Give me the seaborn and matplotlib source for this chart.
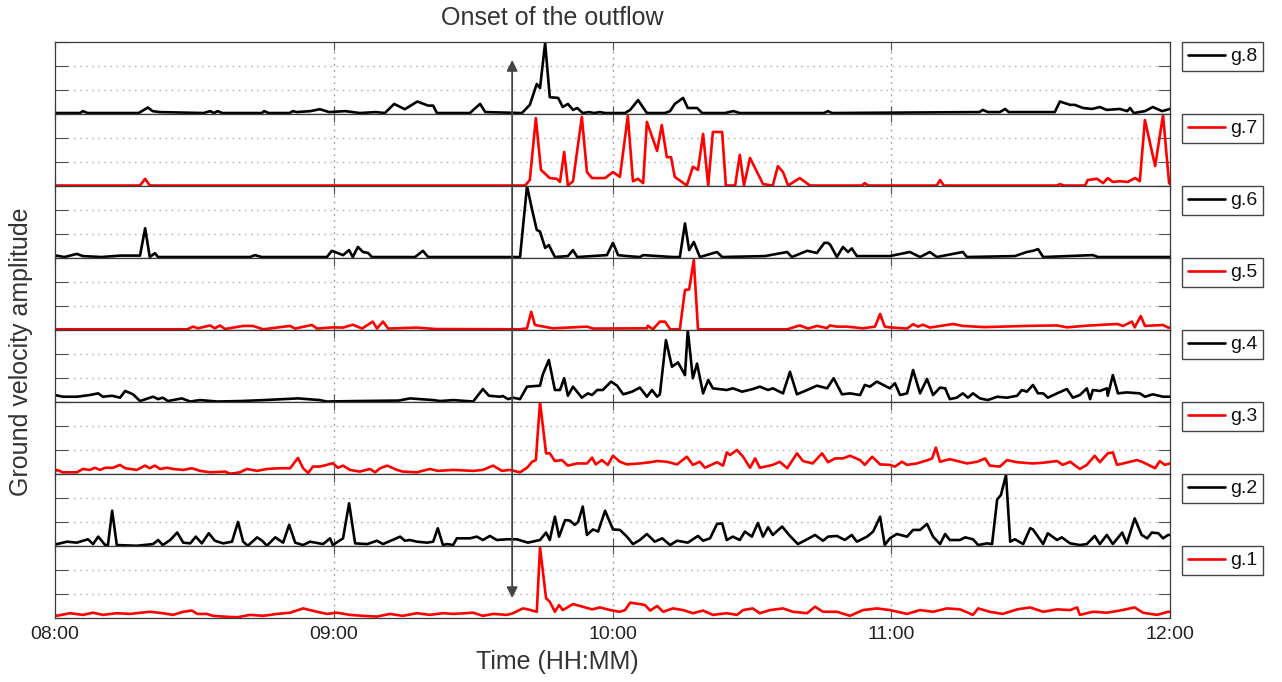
import matplotlib
matplotlib.use("Agg")
import matplotlib.pyplot as plt
from matplotlib.patches import ConnectionPatch
import seaborn as sns
import pandas as pd

# ---------------- data (minutes after 08:00, amplitude in panel units 0..3) ----------------
tick_minutes = [0, 60, 120, 180, 240]
tick_labels = ["08:00", "09:00", "10:00", "11:00", "12:00"]
onset_minute = 98.4

g8_t = [0, 5.4, 6.0, 7.0, 18.0, 20.0, 21.0, 22.5, 32.0, 33.4, 34.2, 35.0, 36.0, 44.5, 45.0, 46.0,
        50.5, 51.2, 52.0, 55.0, 57.0, 59.0, 62.5, 65.6, 69.0, 71.0, 73.0, 75.3, 78.0, 80.3, 81.4,
        82.2, 89.3, 91.5, 92.6, 100.5, 102.2, 103.7, 104.4, 105.5, 106.5, 108.3, 109.3, 110.4,
        111.5, 112.4, 113.6, 115.0, 116.0, 117.3, 118.4, 122.7, 123.8, 125.5, 127.4, 131.3, 132.4,
        133.4, 135.2, 136.2, 138.2, 139.3, 144.2, 146.0, 147.4, 165.5, 166.4, 167.2, 199.0, 199.7,
        200.8, 203.4, 204.5, 205.3, 215.2, 216.3, 218.5, 219.5, 221.3, 223.2, 224.9, 226.4, 229.2,
        230.8, 231.4, 232.2, 234.6, 236.3, 238.3, 240.0]
g8_v = [0.04, 0.04, 0.12, 0.04, 0.04, 0.27, 0.12, 0.08, 0.04, 0.12, 0.04, 0.12, 0.04, 0.04, 0.12, 0.04,
        0.04, 0.12, 0.08, 0.12, 0.2, 0.08, 0.12, 0.04, 0.08, 0.04, 0.42, 0.2, 0.52, 0.35, 0.35,
        0.04, 0.04, 0.42, 0.08, 0.04, 0.38, 1.25, 1.08, 2.96, 0.7, 0.67, 0.29, 0.42,
        0.17, 0.25, 0.04, 0.08, 0.04, 0.08, 0.04, 0.04, 0.17, 0.58, 0.04, 0.04, 0.12,
        0.42, 0.67, 0.25, 0.25, 0.04, 0.04, 0.12, 0.04, 0.04, 0.12, 0.04, 0.08, 0.17,
        0.08, 0.08, 0.21, 0.08, 0.08, 0.52, 0.38, 0.38, 0.25, 0.21, 0.29, 0.17, 0.21,
        0.12, 0.25, 0.04, 0.12, 0.29, 0.12, 0.21]

g7_t = [0, 18.3, 19.4, 20.4, 101.2, 102.2, 103.5, 104.6, 106.5, 108.0, 108.7, 109.6, 110.4, 111.5,
        113.4, 114.5, 115.6, 118.4, 120.1, 121.6, 123.3, 124.4, 125.5, 126.6, 127.4, 129.6, 130.6,
        131.7, 132.6, 133.4, 136.0, 137.3, 138.4, 139.5, 140.6, 141.6, 143.6, 144.4, 146.4, 147.4,
        148.3, 149.6, 152.4, 154.5, 155.6, 156.7, 157.8, 160.3, 162.5, 173.7, 174.3, 175.0, 189.8,
        190.5, 191.3, 215.7, 216.3, 217.2, 221.7, 222.3, 224.3, 225.6, 226.6, 227.7, 229.2, 230.9,
        232.5, 233.5, 234.6, 236.8, 238.5, 239.8, 240.0]
g7_v = [0.02, 0.02, 0.3, 0.02, 0.02, 0.25, 2.83, 0.67, 0.33, 0.3, 0.17, 1.42, 0.02, 0.2,
        2.88, 0.58, 0.33, 0.33, 0.58, 0.38, 2.92, 0.2, 0.3, 0.12, 2.67, 1.46, 2.54,
        1.2, 1.2, 0.38, 0.02, 0.8, 0.67, 2.17, 0.02, 2.25, 2.25, 0.02, 0.02, 1.3,
        0.02, 1.17, 0.08, 0.02, 0.83, 0.58, 0.02, 0.33, 0.02, 0.02, 0.12, 0.02, 0.02,
        0.25, 0.02, 0.02, 0.08, 0.02, 0.02, 0.25, 0.3, 0.12, 0.33, 0.17, 0.2, 0.17,
        0.33, 0.2, 2.75, 0.83, 2.96, 0.12, 0.08]

g6_t = [0, 0.4, 2.0, 4.7, 6.0, 10.0, 14.0, 18.3, 19.4, 20.4, 21.5, 22.2, 42.0, 43.0, 44.5, 58.5,
        59.6, 62.0, 63.3, 64.1, 65.2, 66.3, 67.4, 68.2, 77.5, 79.2, 80.3, 100.1, 101.6, 102.7,
        103.7, 104.4, 105.5, 106.3, 107.6, 110.4, 111.5, 112.4, 118.8, 120.1, 121.2, 123.1, 125.9,
        126.6, 133.0, 134.5, 135.6, 136.5, 137.5, 138.8, 142.5, 143.6, 152.8, 157.6, 158.6, 161.9,
        164.0, 165.6, 166.4, 166.9, 168.3, 169.6, 170.7, 171.5, 172.6, 179.7, 184.0, 186.2, 188.3,
        189.8, 195.4, 196.3, 206.6, 209.2, 210.5, 211.6, 212.7, 223.4, 224.5, 240.0]
g6_v = [0.04, 0.1, 0.04, 0.17, 0.08, 0.04, 0.1, 0.1, 1.24, 0.04, 0.2, 0.04, 0.04, 0.12, 0.04, 0.04,
        0.3, 0.12, 0.33, 0.04, 0.46, 0.25, 0.21, 0.04, 0.04, 0.3, 0.04, 0.04, 3.0, 2.0,
        1.17, 1.1, 0.42, 0.54, 0.04, 0.08, 0.33, 0.04, 0.12, 0.63, 0.12, 0.08, 0.04,
        0.12, 0.04, 0.04, 1.44, 0.33, 0.67, 0.04, 0.25, 0.04, 0.08, 0.25, 0.04, 0.3,
        0.21, 0.63, 0.63, 0.54, 0.04, 0.46, 0.25, 0.4, 0.08, 0.08, 0.25, 0.04, 0.25,
        0.04, 0.25, 0.04, 0.08, 0.25, 0.3, 0.37, 0.04, 0.12, 0.04, 0.04]

g5_t = [0, 28.5, 29.7, 30.8, 33.4, 34.4, 35.5, 36.6, 40.5, 42.6, 44.8, 50.6, 51.7, 55.3, 56.4,
        59.8, 62.0, 64.1, 66.1, 68.4, 69.3, 70.6, 71.7, 77.9, 82.0, 100.1, 101.6, 102.5, 103.3,
        104.4, 107.2, 114.5, 115.8, 127.4, 127.6, 128.7, 130.2, 131.3, 132.4, 134.5, 135.6, 136.5,
        137.5, 138.4, 157.6, 160.3, 162.1, 164.0, 166.2, 166.8, 168.3, 170.5, 173.9, 176.5, 177.6,
        178.6, 179.7, 183.4, 184.7, 185.8, 186.8, 188.3, 193.3, 195.4, 200.0, 209.2, 215.7, 217.8,
        222.1, 228.6, 229.9, 231.8, 232.4, 233.7, 234.6, 238.5, 239.6, 240.0]
g5_v = [0.03, 0.03, 0.14, 0.07, 0.19, 0.07, 0.19, 0.04, 0.17, 0.17, 0.03, 0.17, 0.06, 0.21, 0.06,
        0.11, 0.1, 0.22, 0.06, 0.35, 0.06, 0.35, 0.06, 0.1, 0.04, 0.03, 0.07, 0.76, 0.21,
        0.17, 0.07, 0.14, 0.06, 0.07, 0.18, 0.03, 0.35, 0.35, 0.03, 0.03, 1.67, 1.69,
        2.92, 0.03, 0.03, 0.19, 0.06, 0.17, 0.08, 0.19, 0.14, 0.14, 0.07, 0.14, 0.67,
        0.14, 0.11, 0.06, 0.24, 0.14, 0.22, 0.1, 0.25, 0.17, 0.12, 0.17, 0.19, 0.11,
        0.18, 0.25, 0.17, 0.35, 0.11, 0.58, 0.17, 0.21, 0.1, 0.1]

g4_t = [0, 1.7, 4.7, 7.5, 9.3, 10.3, 12.3, 14.0, 15.1, 16.8, 18.3, 21.1, 22.2, 23.2, 24.3, 27.3,
        29.1, 31.2, 34.9, 40.0, 45.0, 52.3, 57.0, 58.5, 65.0, 74.0, 76.4, 81.4, 82.9, 85.7, 90.0,
        92.1, 93.4, 95.8, 96.4, 97.5, 98.6, 100.1, 101.6, 104.4, 105.0, 106.3, 107.6, 108.7, 109.6,
        110.4, 111.5, 113.4, 114.7, 115.6, 116.7, 117.9, 119.7, 121.0, 122.3, 124.2, 125.9, 127.4,
        128.5, 129.6, 130.2, 131.5, 132.8, 134.1, 135.6, 136.2, 137.3, 138.2, 139.5, 140.6, 141.6,
        144.6, 145.9, 147.9, 150.2, 151.7, 153.5, 154.5, 156.7, 158.2, 159.7, 161.9, 164.0, 166.2,
        167.6, 169.4, 171.1, 173.3, 174.3, 175.4, 176.9, 179.7, 180.8, 181.9, 183.4, 184.7, 186.2,
        187.7, 189.0, 190.5, 191.6, 192.6, 194.1, 195.4, 196.5, 197.6, 199.1, 200.8, 202.8, 204.9,
        207.1, 208.1, 209.2, 210.5, 211.6, 212.7, 213.7, 215.7, 217.8, 219.1, 220.6, 222.1, 222.8,
        223.4, 224.9, 226.4, 226.6, 227.7, 228.8, 230.7, 233.5, 234.6, 236.3, 238.5, 240.0]
g4_v = [0.29, 0.22, 0.22, 0.29, 0.36, 0.22, 0.26, 0.18, 0.46, 0.32, 0.04, 0.22, 0.12, 0.18, 0.04, 0.15,
        0.02, 0.08, 0.02, 0.04, 0.08, 0.15, 0.08, 0.02, 0.04, 0.06, 0.15, 0.08, 0.04, 0.08, 0.02,
        0.54, 0.26, 0.22, 0.25, 0.12, 0.18, 0.12, 0.64, 0.68, 1.15, 1.75, 0.5, 0.5, 0.99,
        0.26, 0.64, 0.18, 0.36, 0.29, 0.5, 0.5, 0.85, 0.68, 0.32, 0.43, 0.6, 0.22,
        0.5, 0.22, 0.32, 2.58, 1.47, 1.65, 1.12, 3.0, 0.99, 1.6, 0.36, 0.92, 0.57,
        0.5, 0.57, 0.43, 0.54, 0.64, 0.5, 0.57, 0.36, 1.26, 0.32, 0.5, 0.68, 0.57,
        0.99, 0.32, 0.36, 0.29, 0.71, 0.64, 0.85, 0.57, 0.78, 0.29, 0.36, 1.33, 0.36,
        0.96, 0.29, 0.6, 0.57, 0.12, 0.18, 0.36, 0.18, 0.36, 0.15, 0.08, 0.22, 0.18,
        0.26, 0.5, 0.43, 0.71, 0.36, 0.36, 0.18, 0.36, 0.54, 0.18, 0.29, 0.57, 0.12,
        0.5, 0.46, 0.57, 0.26, 1.12, 0.36, 0.4, 0.36, 0.22, 0.32, 0.22, 0.22]

g3_t = [0, 0.4, 1.7, 4.7, 6.0, 7.5, 8.6, 9.7, 10.8, 12.5, 14.0, 15.1, 17.6, 19.4, 20.4, 21.5, 22.6,
        24.1, 25.4, 27.6, 29.5, 31.2, 33.4, 36.6, 37.7, 39.8, 41.3, 43.5, 45.6, 48.4, 50.6, 52.3,
        53.4, 54.5, 55.5, 57.0, 58.5, 59.8, 60.9, 62.0, 63.5, 65.6, 67.8, 68.9, 70.0, 71.5, 73.6,
        74.9, 77.9, 80.7, 82.4, 85.7, 90.0, 92.1, 94.3, 96.2, 97.9, 100.1, 101.6, 102.7, 103.5,
        104.4, 105.7, 106.5, 107.6, 109.1, 110.4, 112.4, 114.5, 115.6, 116.4, 117.7, 119.0, 120.1,
        121.6, 123.1, 125.9, 128.1, 129.6, 131.7, 133.9, 136.0, 137.3, 138.8, 139.9, 142.5, 143.8,
        144.6, 145.3, 146.8, 148.1, 149.6, 150.7, 151.7, 154.5, 156.0, 157.6, 159.7, 161.0, 163.1,
        165.1, 166.4, 167.9, 169.6, 171.1, 173.3, 174.3, 175.9, 177.6, 179.7, 180.8, 182.3, 183.4,
        185.5, 187.9, 188.8, 189.6, 190.5, 192.6, 196.3, 198.5, 200.2, 201.2, 203.4, 204.9, 207.1,
        210.5, 212.7, 215.7, 216.9, 218.5, 220.6, 222.1, 223.8, 224.9, 226.6, 227.7, 228.6, 229.9,
        232.9, 234.2, 236.8, 237.8, 238.9, 240.0]
g3_v = [0.1, 0.17, 0.07, 0.07, 0.21, 0.17, 0.26, 0.17, 0.26, 0.26, 0.38, 0.24, 0.17, 0.35, 0.24, 0.35, 0.21,
        0.26, 0.21, 0.17, 0.24, 0.13, 0.07, 0.1, 0.01, 0.07, 0.21, 0.13, 0.21, 0.24, 0.24, 0.67,
        0.24, 0.04, 0.31, 0.31, 0.38, 0.45, 0.26, 0.35, 0.17, 0.1, 0.21, 0.07, 0.24, 0.35, 0.17,
        0.1, 0.07, 0.21, 0.13, 0.17, 0.13, 0.17, 0.35, 0.13, 0.17, 0.07, 0.26, 0.51, 0.58,
        3.0, 0.86, 0.86, 0.54, 0.58, 0.35, 0.44, 0.44, 0.68, 0.4, 0.58, 0.38, 0.76,
        0.51, 0.4, 0.44, 0.49, 0.54, 0.51, 0.4, 0.72, 0.38, 0.51, 0.26, 0.49, 0.35,
        0.9, 0.79, 1.0, 0.72, 0.26, 0.65, 0.26, 0.38, 0.51, 0.24, 0.86, 0.54, 0.44,
        0.86, 0.49, 0.65, 0.65, 0.76, 0.58, 0.38, 0.72, 0.4, 0.38, 0.31, 0.51, 0.38,
        0.44, 0.58, 0.65, 1.1, 0.51, 0.62, 0.44, 0.51, 0.65, 0.35, 0.31, 0.58, 0.49,
        0.44, 0.47, 0.54, 0.38, 0.51, 0.21, 0.38, 0.76, 0.49, 0.86, 0.9, 0.38, 0.44,
        0.58, 0.49, 0.24, 0.54, 0.38, 0.44]

g2_t = [0, 0.4, 2.6, 4.7, 7.1, 8.2, 9.3, 10.8, 11.4, 12.3, 13.3, 17.6, 21.1, 22.2, 23.2, 24.8, 26.3,
        27.6, 29.1, 30.3, 31.6, 33.1, 34.4, 36.2, 38.1, 39.4, 40.5, 41.5, 43.5, 44.6, 45.6, 47.4,
        49.1, 50.4, 51.7, 53.4, 54.9, 57.7, 59.2, 59.8, 62.0, 63.3, 64.6, 67.2, 69.3, 70.6, 74.3,
        75.3, 76.4, 77.9, 80.1, 81.4, 82.4, 83.5, 84.4, 85.7, 86.5, 89.3, 90.8, 92.1, 93.6, 95.1,
        97.3, 99.4, 101.8, 104.4, 105.7, 106.5, 107.6, 108.5, 109.8, 110.8, 111.9, 112.6, 113.6,
        114.5, 115.8, 116.9, 118.4, 120.1, 121.6, 123.1, 124.4, 125.9, 127.4, 129.1, 130.7, 132.4,
        133.9, 136.2, 138.4, 139.5, 141.0, 142.5, 143.6, 144.6, 145.9, 147.4, 148.5, 150.0, 151.3,
        152.4, 153.5, 154.5, 156.5, 158.2, 159.9, 161.9, 163.6, 165.3, 166.4, 168.3, 170.0, 171.5,
        172.6, 174.8, 176.1, 177.6, 178.6, 179.7, 181.2, 183.4, 184.7, 186.2, 187.7, 189.0, 190.5,
        191.6, 192.6, 194.8, 195.9, 197.6, 198.7, 200.6, 201.7, 202.8, 203.6, 204.7, 205.6, 206.6,
        208.4, 209.9, 210.5, 212.7, 213.7, 215.7, 216.7, 218.5, 220.6, 222.1, 223.8, 224.9, 226.4,
        227.7, 229.7, 230.7, 232.4, 233.9, 235.1, 236.1, 237.5, 238.5, 239.6, 240.0]
g2_v = [0.04, 0.08, 0.18, 0.14, 0.28, 0.08, 0.39, 0.04, 0.04, 1.47, 0.04, 0.01, 0.08, 0.25, 0.04, 0.25, 0.56,
        0.14, 0.11, 0.39, 0.11, 0.53, 0.22, 0.11, 0.18, 1.0, 0.18, 0.01, 0.36, 0.22, 0.01, 0.36,
        0.14, 0.88, 0.14, 0.04, 0.18, 0.08, 0.32, 0.04, 0.32, 1.78, 0.11, 0.08, 0.22, 0.08, 0.39,
        0.22, 0.25, 0.18, 0.14, 0.18, 0.74, 0.04, 0.08, 0.04, 0.32, 0.32, 0.39, 0.25, 0.42, 0.25,
        0.28, 0.28, 0.14, 0.25, 0.56, 0.25, 1.22, 0.39, 1.08, 1.06, 0.88, 1.0, 1.64,
        0.46, 0.69, 0.6, 1.47, 0.69, 0.67, 0.39, 0.08, 0.25, 0.5, 0.18, 0.32, 0.04,
        0.22, 0.14, 0.42, 0.22, 0.32, 0.92, 0.94, 0.25, 0.39, 0.25, 0.6, 0.39, 0.96,
        0.39, 0.78, 0.46, 0.81, 0.42, 0.08, 0.28, 0.46, 0.22, 0.39, 0.42, 0.25, 0.46,
        0.18, 0.39, 0.6, 1.22, 0.04, 0.32, 0.5, 0.39, 0.67, 0.67, 0.92, 0.39, 0.08,
        0.5, 0.25, 0.25, 0.36, 0.28, 0.04, 0.11, 0.08, 1.94, 2.12, 2.96, 0.18, 0.28,
        0.08, 0.74, 0.69, 0.08, 0.53, 0.25, 0.36, 0.11, 0.04, 0.08, 0.42, 0.08, 0.46,
        0.08, 0.56, 0.11, 1.15, 0.46, 0.32, 0.56, 0.53, 0.32, 0.46, 0.46]

g1_t = [0, 0.4, 3.2, 6.0, 8.2, 10.3, 13.3, 16.1, 20.4, 23.2, 25.4, 27.6, 29.5, 30.6, 32.7, 34.0, 36.2,
        39.2, 42.0, 44.8, 47.8, 50.6, 53.4, 54.9, 56.4, 58.5, 60.7, 63.5, 66.3, 69.3, 72.1, 74.9,
        77.9, 80.7, 83.5, 85.7, 90.0, 92.1, 94.3, 97.3, 98.6, 100.7, 101.8, 103.7, 104.4, 105.7,
        106.5, 107.6, 108.5, 109.3, 111.5, 113.6, 115.6, 117.3, 119.5, 121.6, 122.7, 123.8, 125.9,
        127.0, 128.1, 129.6, 130.9, 133.0, 135.2, 137.3, 139.5, 141.6, 144.6, 146.8, 148.1, 150.2,
        151.7, 153.9, 156.7, 158.8, 161.9, 163.6, 165.3, 168.3, 171.1, 173.9, 176.9, 179.7, 183.4,
        186.2, 189.0, 192.0, 194.8, 197.6, 198.7, 201.2, 204.0, 207.1, 209.9, 212.7, 215.7, 218.5,
        220.0, 220.6, 223.4, 226.4, 229.2, 232.4, 234.2, 237.2, 239.6, 240.0]
g1_v = [0.13, 0.09, 0.2, 0.13, 0.22, 0.13, 0.2, 0.17, 0.26, 0.2, 0.13, 0.26, 0.31, 0.17, 0.17, 0.09, 0.06,
        0.03, 0.13, 0.09, 0.17, 0.22, 0.4, 0.33, 0.26, 0.17, 0.22, 0.13, 0.09, 0.06, 0.17, 0.09,
        0.2, 0.13, 0.2, 0.17, 0.22, 0.09, 0.17, 0.13, 0.2, 0.4, 0.36, 0.26, 2.94, 0.82,
        0.68, 0.26, 0.54, 0.33, 0.58, 0.47, 0.36, 0.44, 0.33, 0.26, 0.33, 0.64, 0.58,
        0.54, 0.31, 0.5, 0.26, 0.4, 0.33, 0.2, 0.31, 0.13, 0.2, 0.13, 0.33, 0.4,
        0.2, 0.33, 0.4, 0.26, 0.2, 0.47, 0.26, 0.26, 0.09, 0.33, 0.4, 0.33, 0.17,
        0.33, 0.26, 0.4, 0.36, 0.13, 0.4, 0.26, 0.17, 0.36, 0.44, 0.26, 0.36, 0.33,
        0.44, 0.13, 0.26, 0.22, 0.31, 0.44, 0.22, 0.13, 0.26, 0.26]

series_names = ["g.8", "g.7", "g.6", "g.5", "g.4", "g.3", "g.2", "g.1"]
series_t = [g8_t, g7_t, g6_t, g5_t, g4_t, g3_t, g2_t, g1_t]
series_v = [g8_v, g7_v, g6_v, g5_v, g4_v, g3_v, g2_v, g1_v]
series_colors = ["#000000", "#ff0000", "#000000", "#ff0000", "#000000", "#ff0000", "#000000", "#ff0000"]

# ---------------- styling ----------------
sns.set_theme(style="white")
plt.rcParams["font.family"] = ["Liberation Sans", "DejaVu Sans"]

W, H = 1282, 682
fig = plt.figure(figsize=(W / 100, H / 100), dpi=100)

left_px, right_px, top_px, panel_px = 55, 1170, 42, 72
spine_c = "#3a3a3a"
axes = []
for i, (name, t, v, c) in enumerate(zip(series_names, series_t, series_v, series_colors)):
    y_top = top_px + panel_px * i
    ax = fig.add_axes([left_px / W, 1 - (y_top + panel_px) / H,
                       (right_px - left_px) / W, panel_px / H])
    df = pd.DataFrame({"t": t, "v": v})
    sns.lineplot(data=df, x="t", y="v", ax=ax, color=c, linewidth=1.9,
                 estimator=None, sort=False, label=name)
    ax.set_xlim(0, 240)
    ax.set_ylim(0, 3)
    ax.set_xticks(tick_minutes)
    ax.set_yticks([0, 1, 2, 3])
    ax.set_yticklabels([])
    ax.set_xlabel("")
    ax.set_ylabel("")
    for sp in ax.spines.values():
        sp.set_visible(True)
        sp.set_color(spine_c)
        sp.set_linewidth(0.9)
    ax.tick_params(axis="y", direction="in", length=9, width=0.8, color="#555555",
                   left=True, right=True)
    ax.tick_params(axis="x", direction="in", length=6, width=0.8, color="#555555",
                   top=True, bottom=True)
    for gy in [1, 2]:
        ax.axhline(gy, color="#b5b5b5", lw=1.0, ls=(0, (1.2, 3.2)), zorder=0)
    for gx in tick_minutes[1:-1]:
        ax.axvline(gx, color="#9a9a9a", lw=1.0, ls=(0, (1.2, 3.2)), zorder=0)
    if i < len(series_names) - 1:
        ax.set_xticklabels([])
    else:
        ax.set_xticklabels(tick_labels, fontsize=14, color="#222222")
        ax.tick_params(axis="x", pad=6)
    leg = ax.legend(loc="upper left", bbox_to_anchor=(1.011, 1.0), borderaxespad=0,
                    fontsize=14, frameon=True, fancybox=False, framealpha=1,
                    handlelength=1.9, handletextpad=0.25, borderpad=0.3)
    leg.get_frame().set_edgecolor("#444444")
    leg.get_frame().set_linewidth(1.0)
    for txt in leg.get_texts():
        txt.set_color("#111111")
    axes.append(ax)

# onset arrow across the panels
arrow = ConnectionPatch(xyA=(onset_minute, 2.25), coordsA=axes[0].transData,
                        xyB=(onset_minute, 0.83), coordsB=axes[-1].transData,
                        arrowstyle="<|-|>", mutation_scale=16, color="#444444", lw=1.3,
                        zorder=10)
fig.add_artist(arrow)

fig.text(552 / W, 1 - 18 / H, "Onset of the outflow", ha="center", va="center",
         fontsize=18, color="#333333")
fig.text(557 / W, 1 - 662 / H, "Time (HH:MM)", ha="center", va="center",
         fontsize=18, color="#333333")
fig.text(21 / W, 1 - 352 / H, "Ground velocity amplitude", ha="center", va="center",
         rotation=90, fontsize=18, color="#333333")

fig.savefig("out.png", dpi=100)
